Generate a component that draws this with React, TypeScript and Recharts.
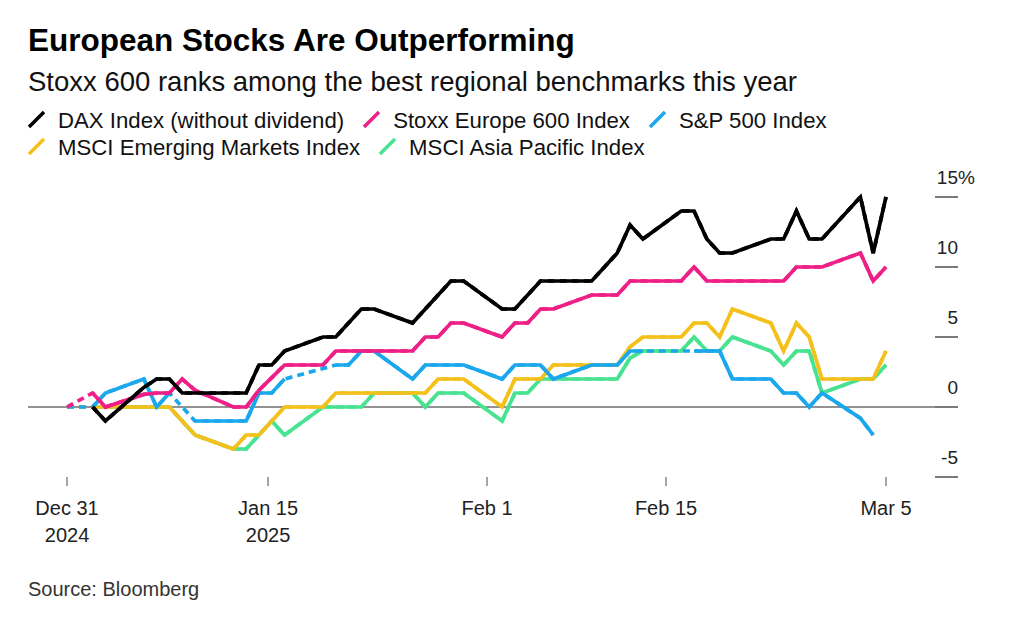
import { LineChart, Line, XAxis, YAxis, CartesianGrid } from "recharts";

const font = '"Liberation Sans", Arial, Helvetica, sans-serif';

// trading days (Jan 1 kept as an empty row so holiday gaps show as dashes)
const dates = [
  "2024-12-31", "2025-01-01", "2025-01-02", "2025-01-03",
  "2025-01-06", "2025-01-07", "2025-01-08", "2025-01-09", "2025-01-10",
  "2025-01-13", "2025-01-14", "2025-01-15", "2025-01-16", "2025-01-17",
  "2025-01-20", "2025-01-21", "2025-01-22", "2025-01-23", "2025-01-24",
  "2025-01-27", "2025-01-28", "2025-01-29", "2025-01-30", "2025-01-31",
  "2025-02-03", "2025-02-04", "2025-02-05", "2025-02-06", "2025-02-07",
  "2025-02-10", "2025-02-11", "2025-02-12", "2025-02-13", "2025-02-14",
  "2025-02-17", "2025-02-18", "2025-02-19", "2025-02-20", "2025-02-21",
  "2025-02-24", "2025-02-25", "2025-02-26", "2025-02-27", "2025-02-28",
  "2025-03-03", "2025-03-04", "2025-03-05",
];

// % change since Dec 31
const dax = [null, null, 0, -1, 1.4, 2, 2, 1, 1, 1, 1, 3, 3, 4, 5, 5, 6, 7, 7, 6, 7, 8, 9, 9, 7, 7, 8, 9, 9, 9, 10, 11, 13, 12, 14, 14, 12, 11, 11, 12, 12, 14, 12, 12, 15, 11, 15];
const stoxx = [0, null, 1, 0, 0.9, 1, 1, 2, 1.2, 0, 0, 1.2, 2.1, 3, 3, 4, 4, 4, 4, 4, 5, 5, 6, 6, 5, 6, 6, 7, 7, 8, 8, 8, 9, 9, 9, 10, 9, 9, 9, 9, 9, 10, 10, 10, 11, 9, 10];
const spx = [0, null, 0, 1, 2, 0, 1, null, -1, -1, -1, 1, 1, 2, null, 3, 3, 4, 4, 2, 3, 3, 3, 3, 2, 3, 3, 3, 2, 3, 3, 3, 4, 4, null, 4, 4, 4, 2, 2, 1, 1, 0, 1, -0.8, -2, null];
const em = [0, null, 0, 0, 0, 0, 0, -1, -2, -3, -2, -2, -1, 0, 0, 1, 1, 1, 1, 1, 1, 2, 2, 2, 0, 2, 2, 2, 3, 3, 3, 3, 4.3, 5, 5, 6, 6, 5, 7, 6, 4, 6, 5, 2, 2, 2, 4];
const asia = [0, null, 0, 0, 0, 0, 0, -1, -2, -3, -3, -2, -1, -2, 0, 0, 0, 0, 1, 1, 0, 1, 1, 1, -1, 1, 1, 2, 2, 2, 2, 2, 3.5, 4, 4, 5, 4, 4, 5, 4, 3, 4, 4, 1, 2, 2, 3];

const xTicks = [0, 15.71, 32.82, 46.81, 64];
const xTickLabels = ["Dec 31", "Jan 15", "Feb 1", "Feb 15", "Mar 5"];
const xTickYears = ["2024", "2025", "", "", ""];
const yTicks = [-5, 0, 5, 10, 15];

// legend order
const legendRows = [
  [
    { key: "dax", name: "DAX Index (without dividend)", color: "#000000" },
    { key: "stoxx", name: "Stoxx Europe 600 Index", color: "#ee1f86" },
    { key: "spx", name: "S&P 500 Index", color: "#1ba7ec" },
  ],
  [
    { key: "em", name: "MSCI Emerging Markets Index", color: "#f4c01c" },
    { key: "asia", name: "MSCI Asia Pacific Index", color: "#48e391" },
  ],
];
// draw order, bottom first
const drawOrder = ["asia", "em", "spx", "stoxx", "dax"];
const colors: Record<string, string> = {
  dax: "#000000",
  stoxx: "#ee1f86",
  spx: "#1ba7ec",
  em: "#f4c01c",
  asia: "#48e391",
};

const start = Date.parse("2024-12-31");
const data = dates.map((d, i) => ({
  day: (Date.parse(d) - start) / 86400000,
  dax: dax[i],
  stoxx: stoxx[i],
  spx: spx[i],
  em: em[i],
  asia: asia[i],
}));

const XTick = ({ x, y, index }: any) => (
  <g>
    <text x={x} y={y + 29} textAnchor="middle" fontSize={20} fill="#222" fontFamily={font}>
      {xTickLabels[index]}
    </text>
    {xTickYears[index] && (
      <text x={x} y={y + 56} textAnchor="middle" fontSize={20} fill="#222" fontFamily={font}>
        {xTickYears[index]}
      </text>
    )}
  </g>
);

const YTick = ({ x, y, payload }: any) => (
  <g>
    <line x1={x} x2={x + 23} y1={y} y2={y} stroke="#7a7a7a" strokeWidth={2} />
    <text x={x + 23} y={y - 13} textAnchor="end" fontSize={19} fill="#222" fontFamily={font}>
      {payload.value}
    </text>
    {payload.value === 15 && (
      <text x={x + 23} y={y - 13} textAnchor="start" fontSize={19} fill="#222" fontFamily={font}>
        %
      </text>
    )}
  </g>
);

const Slash = ({ color }: { color: string }) => (
  <svg width={17} height={17} style={{ marginRight: 13, overflow: "visible" }}>
    <line x1={1} y1={16} x2={16} y2={1} stroke={color} strokeWidth={3.5} />
  </svg>
);

export default function App() {
  return (
    <div
      style={{
        position: "relative",
        width: 1024,
        height: 622,
        margin: -8,
        background: "#fff",
        fontFamily: font,
        color: "#111",
      }}
    >
      <div style={{ position: "absolute", left: 28, top: 25, fontSize: 31.5, lineHeight: "31px", fontWeight: 700, color: "#000", whiteSpace: "nowrap" }}>
        European Stocks Are Outperforming
      </div>
      <div style={{ position: "absolute", left: 28, top: 68, fontSize: 27.5, lineHeight: "27px", whiteSpace: "nowrap" }}>
        Stoxx 600 ranks among the best regional benchmarks this year
      </div>
      {legendRows.map((row, r) => (
        <div
          key={r}
          style={{ position: "absolute", left: 28, top: 107 + r * 27, fontSize: 22.2, lineHeight: "27px", whiteSpace: "nowrap" }}
        >
          {row.map((s, i) => (
            <span key={s.key} style={{ marginLeft: i === 0 ? 0 : 19 }}>
              <Slash color={s.color} />
              {s.name}
            </span>
          ))}
        </div>
      ))}

      <div style={{ position: "absolute", left: 0, top: 0 }}>
        <LineChart
          width={1024}
          height={622}
          data={data}
          margin={{ top: 183, right: 29, bottom: 85, left: 28 }}
        >
          <CartesianGrid vertical={false} horizontalValues={[0]} stroke="#6e6e6e" strokeWidth={1.5} />
          <XAxis
            dataKey="day"
            type="number"
            domain={[-3.05, 67.83]}
            allowDataOverflow
            ticks={xTicks}
            interval={0}
            height={60}
            axisLine={false}
            tickSize={9}
            tickMargin={0}
            tickLine={{ stroke: "#888", strokeWidth: 1.5 }}
            tick={<XTick />}
          />
          <YAxis
            orientation="right"
            width={60}
            domain={[-5, 16]}
            allowDataOverflow
            ticks={yTicks}
            interval={0}
            axisLine={false}
            tickLine={false}
            tickSize={0}
            tickMargin={0}
            tick={<YTick />}
          />
          {drawOrder.flatMap((k) => [
            <Line
              key={k + "-gap"}
              dataKey={k}
              type="linear"
              stroke={colors[k]}
              strokeWidth={3.7}
              strokeDasharray="7 5"
              connectNulls
              dot={false}
              activeDot={false}
              isAnimationActive={false}
            />,
            <Line
              key={k}
              dataKey={k}
              type="linear"
              stroke={colors[k]}
              strokeWidth={3.7}
              connectNulls={false}
              dot={false}
              activeDot={false}
              isAnimationActive={false}
            />,
          ])}
        </LineChart>
      </div>

      <div style={{ position: "absolute", left: 28, top: 579, fontSize: 20, lineHeight: "20px", color: "#333", whiteSpace: "nowrap" }}>
        Source: Bloomberg
      </div>
    </div>
  );
}
